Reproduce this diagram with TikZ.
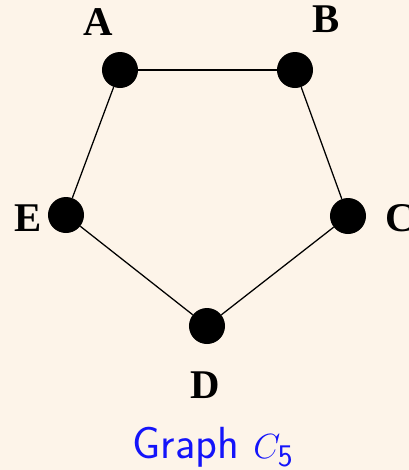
\documentclass[tikz,border=0pt]{standalone}
\usepackage{fontspec}
\setmainfont{Liberation Serif}
\usepackage{tikz}
\usetikzlibrary{positioning}
\usepackage{xcolor}
\definecolor{bgcream}{RGB}{253,244,233}
\definecolor{capblue}{RGB}{20,20,250}

\begin{document}
\begin{tikzpicture}[
    x=0.025cm, y=-0.025cm,
    vert/.style={circle, fill=black, inner sep=0pt, minimum size=0.9cm},
    lab/.style={font=\fontsize{29}{32}\selectfont\bfseries, inner sep=0pt},
    edge/.style={line width=0.9pt, black}
]
    \fill[bgcream] (0,0) rectangle (409,470);
    \useasboundingbox (0,0) rectangle (409,470);
    \node[vert] (A) at (120,70)  {};
    \node[vert] (B) at (295,70)  {};
    \node[vert] (C) at (348,216) {};
    \node[vert] (D) at (207,326) {};
    \node[vert] (E) at (66,215)  {};
    \draw[edge] (A) -- (B);
    \draw[edge] (B) -- (C);
    \draw[edge] (C) -- (D);
    \draw[edge] (D) -- (E);
    \draw[edge] (E) -- (A);
    \node[lab] (la) at (98,22)  {A};
    \node[lab] (lb) at (326,19) {B};
    \node[lab] (lc) at (400,218) {C};
    \node[lab] (ld) at (205,385) {D};
    \node[lab] (le) at (28,218) {E};
    \node[font=\fontsize{32}{36}\selectfont\sffamily, text=capblue] (cap) at (213,447) {Graph $C_{\mathsf{5}}$};
\end{tikzpicture}
\end{document}
